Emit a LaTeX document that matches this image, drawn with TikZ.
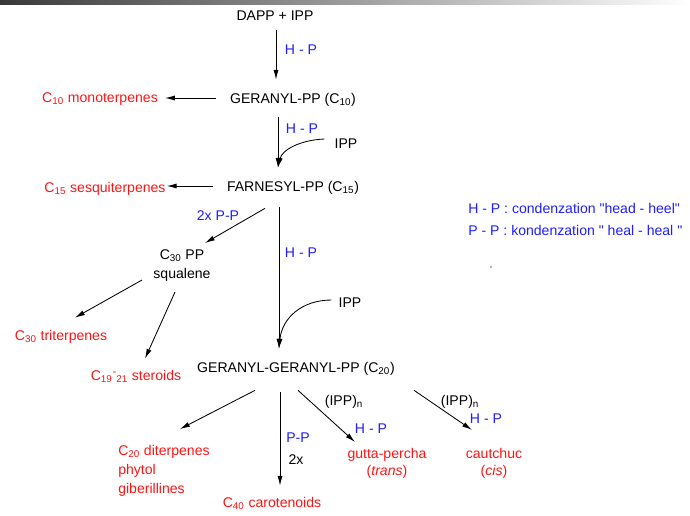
\documentclass[tikz,border=0pt]{standalone}
\usepackage{fontspec}
\setmainfont{Liberation Sans}
\usetikzlibrary{arrows.meta,calc}
\definecolor{hpblue}{RGB}{30,30,255}
\definecolor{prred}{RGB}{255,20,20}

\begin{document}
\begin{tikzpicture}[x=0.025cm, y=-0.025cm,
  lbl/.style={font=\fontsize{10}{13.5}\selectfont, inner sep=0pt, text height=7.2pt, text depth=0pt},
  mlbl/.style={font=\fontsize{10}{13.5}\selectfont, inner sep=0pt},
  prod/.style={lbl, text=prred},
  rxn/.style={lbl, text=hpblue},
  arr/.style={-{Latex[length=7pt,width=3.6pt]}, line width=0.6pt}]
  \useasboundingbox (0,0) rectangle (690,515);
  %% top bar
  \shade[left color=black!78, right color=white] (0,0) rectangle (690,4);

  %% main chain
  \node[lbl] (dapp) at (275,15) {DAPP + IPP};
  \node[lbl] (ger) at (293,98) {GERANYL-PP (C\textsubscript{10})};
  \node[lbl] (far) at (293,186) {FARNESYL-PP (C\textsubscript{15})};
  \node[lbl] (gg) at (296,367) {GERANYL-GERANYL-PP (C\textsubscript{20})};
  \node[mlbl, anchor=north, align=center] (sq) at (182,249) {C\textsubscript{30} PP\\squalene};

  %% products
  \node[prod] (mono) at (100,97) {C\textsubscript{10} monoterpenes};
  \node[prod] (sesq) at (105,187) {C\textsubscript{15} sesquiterpenes};
  \node[prod] (tri) at (61,335) {C\textsubscript{30} triterpenes};
  \node[prod] (ster) at (136,375) {C\textsubscript{19}\raisebox{3.5pt}{\fontsize{8}{8}\selectfont -}\textsubscript{21} steroids};
  \node[mlbl, text=prred, anchor=north west, align=left] (diter) at (118,445) {C\textsubscript{20} diterpenes\\phytol\\giberillines};
  \node[prod] (caro) at (272,502) {C\textsubscript{40} carotenoids};
  \node[mlbl, text=prred, anchor=north, align=center, font=\fontsize{10}{12}\selectfont] (gutta) at (387,448) {gutta-percha\\(\textit{trans})};
  \node[mlbl, text=prred, anchor=north, align=center, font=\fontsize{10}{12}\selectfont] (caut) at (494,448) {cautchuc\\(\textit{cis})};

  %% reaction labels
  \node[rxn] (hp1) at (301,49) {H - P};
  \node[rxn] (hp2) at (302,128) {H - P};
  \node[lbl] (ipp1) at (346,143) {IPP};
  \node[rxn] (pp2x) at (218,215) {2x P-P};
  \node[rxn] (hp3) at (301,252) {H - P};
  \node[lbl] (ipp2) at (350,302) {IPP};
  \node[rxn] (pp4) at (298,437) {P-P};
  \node[lbl] (twox) at (296,459) {2x};
  \node[lbl] (ippn1) at (344,400) {(IPP)\textsubscript{n}};
  \node[rxn] (hp5) at (371,428) {H - P};
  \node[lbl] (ippn2) at (460,400) {(IPP)\textsubscript{n}};
  \node[rxn] (hp6) at (486,418) {H - P};

  %% legend
  \node[rxn, anchor=west] (leg1) at (468,208) {H - P : condenzation \textquotedbl head - heel\textquotedbl};
  \node[rxn, anchor=west] (leg2) at (468,230) {P - P : kondenzation \textquotedbl{} heal - heal \textquotedbl};
  \fill[black!60] (491,267) circle (0.8);

  %% arrows
  \draw[arr] ($(dapp.south)+(1,10)$) -- ($(dapp.south |- ger.north)+(1,-13)$);
  \draw[arr] ($(ger.west)+(-14,0)$) -- ($(ger.west -| mono.east)+(7,0)$);
  \draw[arr] ($(ger.south)+(-15,14)$) -- ($(far.north)+(-15,-13)$) coordinate (j1);
  \draw[arr] ($(ipp1.west)+(-10,-4)$) .. controls (300,140) and (282,150) .. (j1);
  \draw[arr] ($(far.west)+(-14,0)$) -- ($(far.west -| sesq.east)+(1,0)$);
  \draw[arr] ($(far.south)+(-28,17)$) -- ($(sq.north)+(23,-6)$);
  \draw[arr] ($(far.south)+(-14,16)$) coordinate (s6) -- ($(s6 |- gg.north)+(0,-13)$) coordinate (j2);
  \draw[arr] ($(ipp2.west)+(-7,-2)$) .. controls (302,300) and (282,318) .. (j2);
  \draw[arr] ($(sq.north)+(-40,31)$) -- ($(tri.north)+(14,-12)$);
  \draw[arr] ($(sq.north)+(-7,43)$) -- ($(ster.north)+(9,-11)$);
  \draw[arr] ($(gg.south)+(-41,18)$) -- ($(diter.north west)+(62,-16)$);
  \draw[arr] ($(gg.south)+(-16,20)$) coordinate (s10) -- ($(s10 |- caro.north)+(0,-11)$);
  \draw[arr] ($(gg.south)+(2,18)$) -- ($(gutta.north)+(-32,-6)$);
  \draw[arr] ($(gg.south east)+(19,18)$) -- ($(caut.north)+(-22,-18)$);
\end{tikzpicture}
\end{document}
